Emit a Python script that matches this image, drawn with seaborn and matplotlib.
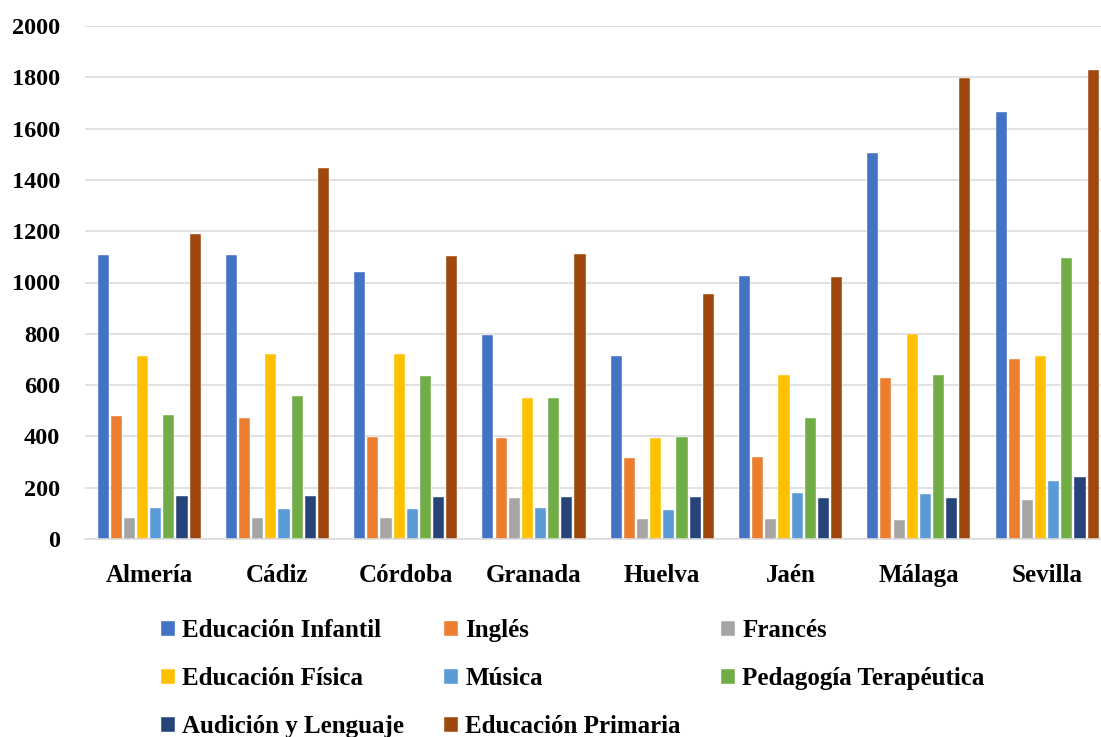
import matplotlib
matplotlib.use("Agg")
import matplotlib.pyplot as plt
import seaborn as sns
import pandas as pd

# Provinces and number of teaching posts per specialty
provincias = ["Almería", "Cádiz", "Córdoba", "Granada", "Huelva", "Jaén", "Málaga", "Sevilla"]

especialidades = [
    "Educación Infantil", "Inglés", "Francés", "Educación Física",
    "Música", "Pedagogía Terapéutica", "Audición y Lenguaje", "Educación Primaria",
]

educacion_infantil = [1107, 1107, 1040, 794, 714, 1024, 1506, 1664]
ingles = [479, 472, 396, 392, 315, 319, 629, 703]
frances = [80, 80, 80, 158, 77, 78, 75, 152]
educacion_fisica = [715, 720, 721, 548, 392, 640, 798, 715]
musica = [119, 117, 117, 119, 113, 178, 174, 226]
pedagogia_terapeutica = [483, 558, 635, 551, 399, 473, 641, 1096]
audicion_lenguaje = [166, 166, 165, 165, 163, 158, 161, 240]
educacion_primaria = [1189, 1446, 1102, 1112, 956, 1020, 1799, 1828]

valores = [educacion_infantil, ingles, frances, educacion_fisica,
           musica, pedagogia_terapeutica, audicion_lenguaje, educacion_primaria]

colores = ["#4472C4", "#ED7D31", "#A5A5A5", "#FFC000",
           "#5B9BD5", "#70AD47", "#264478", "#9E480E"]

df = pd.DataFrame(
    [(p, esp, v) for esp, serie in zip(especialidades, valores) for p, v in zip(provincias, serie)],
    columns=["Provincia", "Especialidad", "Plazas"],
)

sns.set_theme(style="white")
plt.rcParams["font.family"] = ["Liberation Serif", "DejaVu Serif"]
plt.rcParams["font.weight"] = "bold"
plt.rcParams["text.color"] = "black"

W, H = 1101, 737
fig = plt.figure(figsize=(W / 100, H / 100), dpi=100)
ax = fig.add_axes([85 / W, (H - 539) / H, (W - 85) / W, (539 - 26) / H])

sns.barplot(
    data=df, x="Provincia", y="Plazas", hue="Especialidad",
    order=provincias, hue_order=especialidades, palette=colores,
    width=0.82, gap=0.16, ax=ax, saturation=1, errorbar=None,
    edgecolor="white", linewidth=0.3,
)

handles, labels = ax.get_legend_handles_labels()
ax.legend_.remove()

ax.set_ylim(0, 2000)
ax.set_xlim(-0.5, 7.42)
ax.set_yticks(range(0, 2001, 200))
ax.yaxis.grid(True, color="#D9D9D9", linewidth=1.1)
ax.set_axisbelow(True)
for s in ["top", "right", "left"]:
    ax.spines[s].set_visible(False)
ax.spines["bottom"].set_color("#D9D9D9")
ax.spines["bottom"].set_linewidth(1.1)
ax.set_xlabel("")
ax.set_ylabel("")

fs = 18
ax.tick_params(axis="y", length=0, pad=18, labelsize=17.5)
ax.tick_params(axis="x", length=0, pad=18, labelsize=fs)
for t in ax.get_xticklabels() + ax.get_yticklabels():
    t.set_fontweight("bold")
    t.set_color("black")

# Legend laid out in three columns below the chart
columnas = [[0, 3, 6], [1, 4, 7], [2, 5]]
x_cols = [161, 444, 721]
for idxs, xc in zip(columnas, x_cols):
    leg = fig.legend(
        [handles[i] for i in idxs], [labels[i] for i in idxs],
        loc="upper left", bbox_to_anchor=(xc / W, (H - 619) / H),
        frameon=False, prop={"weight": "bold", "size": fs},
        handlelength=0.55, handleheight=0.55, handletextpad=0.3,
        labelspacing=1.0, borderpad=0, borderaxespad=0,
    )
    for t in leg.get_texts():
        t.set_color("black")

fig.savefig("out.png", dpi=100)
